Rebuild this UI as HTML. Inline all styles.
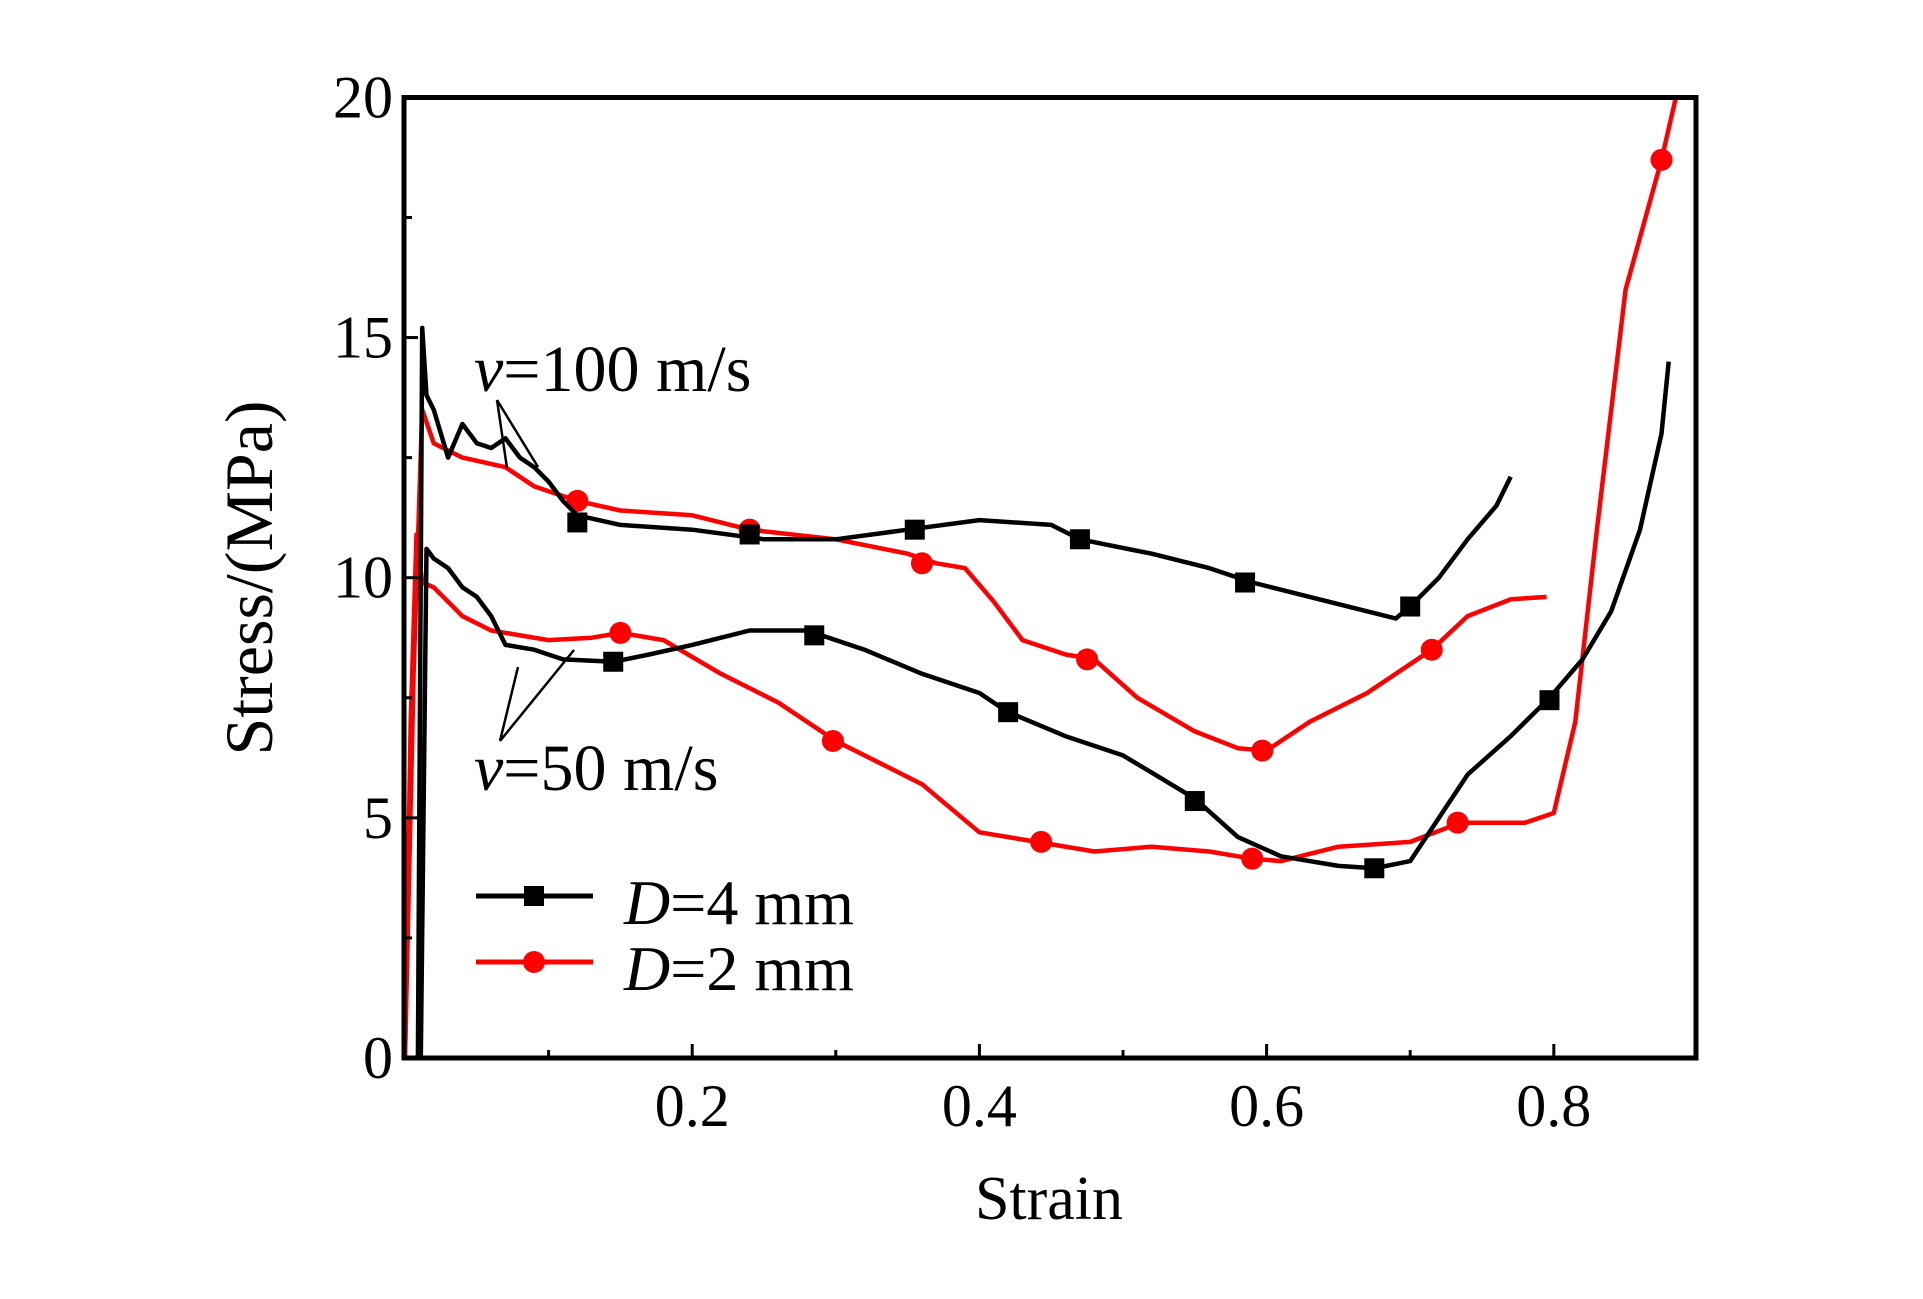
<!DOCTYPE html>
<html><head><meta charset="utf-8"><style>
html,body{margin:0;padding:0;background:#fff;}
svg{display:block;font-family:"Liberation Serif",serif;}
</style></head><body>
<svg id="chart" width="1923" height="1299" viewBox="0 0 1923 1299" xmlns="http://www.w3.org/2000/svg">
<rect x="0" y="0" width="1923" height="1299" fill="#fff"/>
<g id="series"></g>
<g id="axes"></g>
<rect x="404" y="97.5" width="1292" height="960.5" fill="none" stroke="#000" stroke-width="5"/>
<text transform="translate(272,578) rotate(-90)" text-anchor="middle" font-size="68">Stress/(MPa)</text>
<text x="1049" y="1219" text-anchor="middle" font-size="62">Strain</text>
<text x="474" y="391" font-size="66"><tspan font-style="italic">v</tspan>=100 m/s</text>
<text x="474" y="790" font-size="66"><tspan font-style="italic">v</tspan>=50 m/s</text>
<g stroke="#000" stroke-width="2.5" fill="none">
<line x1="497" y1="400" x2="538" y2="467"/><line x1="497" y1="400" x2="507" y2="468"/>
<line x1="500" y1="741" x2="518" y2="667"/><line x1="500" y1="741" x2="574" y2="650"/>
</g>
<g>
<g>
<line x1="476" y1="896" x2="593" y2="896" stroke="#000" stroke-width="5"/>
<rect x="524" y="886" width="20" height="20" fill="#000"/>
<text x="624" y="924" font-size="64"><tspan font-style="italic">D</tspan>=4 mm</text>
</g>
<g>
<line x1="476" y1="962" x2="593" y2="962" stroke="#f00" stroke-width="5"/>
<circle cx="534" cy="962" r="11" fill="#f00"/>
<text x="624" y="990" font-size="64"><tspan font-style="italic">D</tspan>=2 mm</text>
</g>
</g>
</svg>
<script>
const xTicks = [0.2, 0.4, 0.6, 0.8];
const xMinor = [0.1, 0.3, 0.5, 0.7];
const yTicks = [0, 5, 10, 15, 20];
const yMinor = [2.5, 7.5, 12.5, 17.5];

const b100x = [0,0.009,0.012,0.015,0.02,0.03,0.04,0.05,0.06,0.07,0.08,0.09,0.1,0.11,0.12,0.15,0.2,0.25,0.3,0.35,0.4,0.45,0.47,0.52,0.56,0.59,0.63,0.67,0.69,0.7,0.72,0.74,0.76,0.77];
const b100y = [0,0,15.2,13.8,13.5,12.5,13.2,12.8,12.7,12.9,12.5,12.3,12.0,11.6,11.3,11.1,11.0,10.8,10.8,11.0,11.2,11.1,10.8,10.5,10.2,9.9,9.6,9.3,9.15,9.4,10.0,10.8,11.5,12.1];
const b100m = [0.12,0.24,0.355,0.47,0.585,0.70];
const b100mv = [11.15,10.9,11.0,10.8,9.9,9.4];

const r100x = [0,0.006,0.012,0.02,0.04,0.07,0.09,0.12,0.15,0.2,0.24,0.3,0.35,0.37,0.39,0.41,0.43,0.46,0.48,0.51,0.55,0.58,0.6,0.63,0.67,0.715,0.74,0.77,0.795];
const r100y = [0,8,13.5,12.8,12.5,12.3,11.9,11.6,11.4,11.3,11.0,10.8,10.5,10.3,10.2,9.5,8.7,8.4,8.3,7.5,6.8,6.45,6.4,7.0,7.6,8.5,9.2,9.55,9.6];
const r100m = [0.12,0.24,0.36,0.475,0.597,0.715];
const r100mv = [11.6,11.0,10.3,8.3,6.4,8.5];

const b50x = [0.011,0.015,0.02,0.03,0.04,0.05,0.06,0.07,0.09,0.11,0.145,0.17,0.2,0.24,0.28,0.32,0.36,0.4,0.42,0.46,0.5,0.55,0.58,0.61,0.65,0.675,0.7,0.72,0.74,0.77,0.797,0.82,0.84,0.86,0.875,0.88];
const b50y = [0,10.6,10.4,10.2,9.8,9.6,9.2,8.6,8.5,8.3,8.25,8.4,8.6,8.9,8.9,8.5,8.0,7.6,7.2,6.7,6.3,5.4,4.6,4.2,4.0,3.95,4.1,5.0,5.9,6.7,7.5,8.3,9.3,11.0,13.0,14.5];
const b50m = [0.145,0.285,0.42,0.55,0.675,0.797];
const b50mv = [8.25,8.8,7.2,5.35,3.95,7.45];

const r50x = [0,0.004,0.008,0.012,0.02,0.04,0.06,0.1,0.13,0.15,0.18,0.22,0.26,0.3,0.36,0.4,0.44,0.48,0.52,0.56,0.59,0.61,0.65,0.7,0.735,0.76,0.78,0.8,0.815,0.83,0.85,0.875,0.885];
const r50y = [0,7,10.9,9.9,9.8,9.2,8.9,8.7,8.75,8.85,8.7,8.0,7.4,6.6,5.7,4.7,4.5,4.3,4.4,4.3,4.15,4.1,4.4,4.5,4.9,4.9,4.9,5.1,7.0,11.0,16.0,18.7,20.0];
const r50m = [0.15,0.298,0.443,0.59,0.733,0.875];
const r50mv = [8.85,6.6,4.5,4.15,4.9,18.7];

const NS = 'http://www.w3.org/2000/svg';
const X = v => 405 + v * 1436;
const Y = v => 1058 - v * 48.03;

function mk(tag, attrs, parent) {
  const el = document.createElementNS(NS, tag);
  for (const k in attrs) el.setAttribute(k, attrs[k]);
  parent.appendChild(el);
  return el;
}
const axes = document.getElementById('axes');
const series = document.getElementById('series');

xTicks.forEach(t => {
  const l = mk('line', {x1: X(t), x2: X(t), y1: 1058, y2: 1044, stroke: '#000', 'stroke-width': 3}, axes);
  
  
  const tx = mk('text', {x: X(t), y: 1126, 'text-anchor': 'middle', 'font-size': 60}, axes);
  
  
  tx.textContent = t.toFixed(1);
});
xMinor.forEach(t => {
  const l = mk('line', {x1: X(t), x2: X(t), y1: 1058, y2: 1050, stroke: '#000', 'stroke-width': 3}, axes);
  
  
});
yTicks.forEach(t => {
  const l = mk('line', {x1: 404, x2: 418, y1: Y(t), y2: Y(t), stroke: '#000', 'stroke-width': 3}, axes);
  
  
  const tx = mk('text', {x: 393, y: Y(t) + 20, 'text-anchor': 'end', 'font-size': 60}, axes);
  
  
  tx.textContent = String(t);
});
yMinor.forEach(t => {
  const l = mk('line', {x1: 404, x2: 412, y1: Y(t), y2: Y(t), stroke: '#000', 'stroke-width': 3}, axes);
  
  
});

function drawSeries(xs, ys, mx, my, color, shape, name) {
  const pts = xs.map((x, i) => X(x).toFixed(1) + ',' + Y(ys[i]).toFixed(1)).join(' ');
  const pl = mk('polyline', {points: pts, fill: 'none', stroke: color, 'stroke-width': 4.5, 'stroke-linejoin': 'round'}, series);
  
  
  mx.forEach((x, i) => {
    let m;
    if (shape === 'square') m = mk('rect', {x: X(x) - 10, y: Y(my[i]) - 10, width: 20, height: 20, fill: color}, series);
    else m = mk('circle', {cx: X(x), cy: Y(my[i]), r: 11, fill: color}, series);
    
    
  });
}
drawSeries(r100x, r100y, r100m, r100mv, '#f00', 'circle', 'd2-v100');
drawSeries(r50x, r50y, r50m, r50mv, '#f00', 'circle', 'd2-v50');
drawSeries(b100x, b100y, b100m, b100mv, '#000', 'square', 'd4-v100');
drawSeries(b50x, b50y, b50m, b50mv, '#000', 'square', 'd4-v50');
</script>
</body></html>
